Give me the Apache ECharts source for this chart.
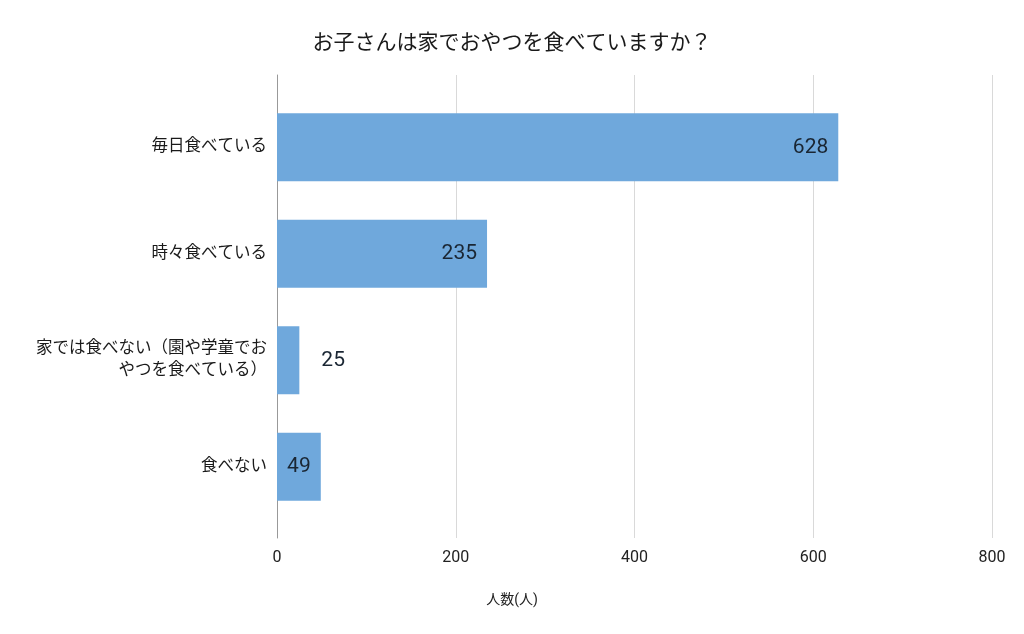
<!DOCTYPE html>
<html>
<head>
<meta charset="utf-8">
<script src="https://cdn.jsdelivr.net/npm/echarts@6/dist/echarts.min.js"></script>
<style>html,body{margin:0;padding:0;background:#fff}#c{width:1024px;height:634px}</style>
</head>
<body>
<div id="c"></div>
<script>
const titleText = 'お子さんは家でおやつを食べていますか？';
const axisName = '人数(人)';
const categories = ['毎日食べている', '時々食べている', '家では食べない（園や学童でお\nやつを食べている）', '食べない'];
const values = [628, 235, 25, 49];
const labelPositions = ['insideRight', 'insideRight', 'right', 'inside'];
const xTicks = [0, 200, 400, 600, 800];

const FONT = "Roboto, 'Noto Sans CJK JP', sans-serif";
const chart = echarts.init(document.getElementById('c'));
chart.setOption({
  animation: false,
  textStyle: { fontFamily: FONT },
  title: [
    { text: titleText, left: 'center', top: 28, textStyle: { fontSize: 21, fontWeight: 'normal', color: '#1a1a1a', fontFamily: FONT } },
    { text: axisName, left: 'center', top: 588, textStyle: { fontSize: 14, fontWeight: 'normal', color: '#222', fontFamily: FONT } }
  ],
  grid: [
    { left: 277, right: 32, top: 75, bottom: 96 },
    { left: 277, right: 32, top: 94, bottom: 114 }
  ],
  xAxis: [
    { gridIndex: 0, type: 'value', min: xTicks[0], max: xTicks[xTicks.length - 1], interval: 200,
      axisLine: { show: false }, axisTick: { show: false },
      splitLine: { show: true, lineStyle: { color: '#d9d9d9', width: 1 } },
      axisLabel: { margin: 12, fontSize: 16, color: '#222', fontFamily: FONT } },
    { gridIndex: 1, type: 'value', min: xTicks[0], max: xTicks[xTicks.length - 1], show: false }
  ],
  yAxis: [
    { gridIndex: 0, type: 'category', data: categories, inverse: true,
      axisLine: { show: true, lineStyle: { color: '#999', width: 1 } },
      axisTick: { show: false }, axisLabel: { show: false }, splitLine: { show: false } },
    { gridIndex: 1, type: 'category', data: categories, inverse: true,
      axisLine: { show: false }, axisTick: { show: false },
      axisLabel: { margin: 10, fontSize: 16.5, color: '#1a1a1a', lineHeight: 22, align: 'right', fontFamily: FONT } }
  ],
  series: [{
    type: 'bar',
    xAxisIndex: 1, yAxisIndex: 1,
    barWidth: 68,
    itemStyle: { color: '#6fa8dc' },
    data: values.map((v, i) => ({
      value: v,
      label: { show: true, position: labelPositions[i], distance: i === 2 ? 22 : 10,
        fontSize: 21, color: '#1a2633', fontFamily: FONT }
    }))
  }]
});
</script>
</body>
</html>
